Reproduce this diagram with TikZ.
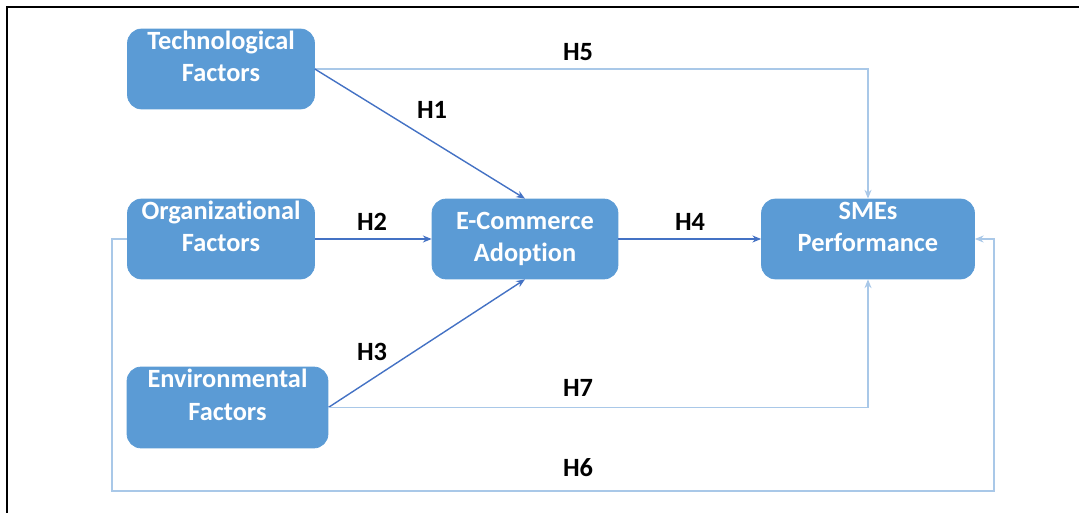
\documentclass[tikz,border=0pt]{standalone}
\usepackage{fontspec}
\setmainfont{Carlito}[Ligatures=NoCommon]
\usetikzlibrary{arrows.meta, calc}
\definecolor{boxblue}{HTML}{5B9BD5}
\definecolor{darkline}{HTML}{4472C4}
\definecolor{lightline}{HTML}{A9C8E8}
\tikzstyle{factor} = [rectangle, rounded corners=8pt, fill=boxblue, draw=boxblue, text=white, font=\bfseries\fontsize{15}{18.5}\selectfont, align=center, minimum height=1.6cm, inner sep=0pt]
\tikzstyle{strong} = [darkline, line width=0.8pt, -{Stealth[length=5pt,width=4pt]}]
\tikzstyle{weak} = [lightline, line width=0.8pt, -{Stealth[length=5pt,width=4pt]}]
\tikzstyle{hyp} = [font=\bfseries\fontsize{15}{18}\selectfont, text=black]
\newcommand{\uptext}[1]{\raisebox{0.07cm}[0pt][0pt]{\begin{tabular}{@{}c@{}}#1\end{tabular}}}

\begin{document}
\begin{tikzpicture}[x=0.02cm, y=-0.02cm]
        \useasboundingbox (0,0) rectangle (1079,513);
        \draw[line width=1.4pt] (7,513) -- (7,7) -- (1079,7);

        \node at (221,69) [factor, minimum width=3.74cm](tech) {\uptext{Technological\\Factors}};
        \node at (221,239) [factor, minimum width=3.74cm](org) {\uptext{Organizational\\Factors}};
        \node at (227.5,407.5) [factor, minimum width=4.02cm, minimum height=1.62cm](env) {\uptext{Environmental\\Factors}};
        \node at (525,239) [factor, minimum width=3.72cm](ecom) {E-Commerce\\Adoption};
        \node at (868,239) [factor, minimum width=4.26cm](sme) {\uptext{SMEs\\Performance}};

        \coordinate (h6left) at (112,491);
        \coordinate (h6right) at (994,491);

        \draw[weak] (tech.east) -| (sme.north);
        \draw[strong] (tech.east) -- (ecom.north);
        \draw[strong] (org.east) -- (ecom.west);
        \draw[strong] (env.east) -- (ecom.south);
        \draw[strong] (ecom.east) -- (sme.west);
        \draw[weak] (env.east) -| (sme.south);
        \draw[weak] (org.west) -| (h6left) -- (h6right) |- (sme.east);

        \node[hyp] (h1) at (432,110) {H1};
        \node[hyp] (h2) at (372,222) {H2};
        \node[hyp] (h3) at (372,352) {H3};
        \node[hyp] (h4) at (690,222) {H4};
        \node[hyp] (h5) at (578,52) {H5};
        \node[hyp] (h6) at (578,468) {H6};
        \node[hyp] (h7) at (578,388) {H7};

    \end{tikzpicture}
\end{document}
